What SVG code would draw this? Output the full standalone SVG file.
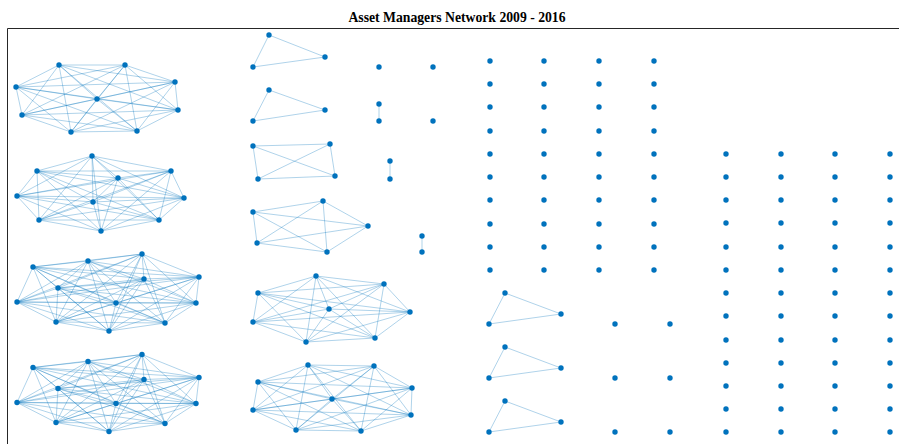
<svg xmlns="http://www.w3.org/2000/svg" xmlns:xlink="http://www.w3.org/1999/xlink" width="899" height="444" viewBox="0 0 899 444">
<style>
.e path{fill:none;stroke:#0072BD;stroke-opacity:0.45;stroke-width:0.7}
.n circle{fill:#0072BD;r:2.7px}
.ax{fill:none;stroke:#262626;stroke-width:1}
.t{font-family:"Liberation Serif","Times New Roman",serif;font-weight:bold;font-size:13.7px;fill:#000}
</style>
<rect width="899" height="444" fill="#fff"/>
<text class="t" x="457" y="22" text-anchor="middle">Asset Managers Network 2009 - 2016</text>
<path class="ax" d="M7.5 444V28.5H899"/>
<g id="connectors" class="e">
<g id="e-g1">
<path d="M59 65 125 65"/><path d="M59 65 175 82"/><path d="M59 65 16 87"/><path d="M59 65 97 99"/><path d="M59 65 178 110"/><path d="M59 65 22 115"/><path d="M59 65 71 132"/><path d="M59 65 137 131"/>
<path d="M125 65 175 82"/><path d="M125 65 16 87"/><path d="M125 65 97 99"/><path d="M125 65 178 110"/><path d="M125 65 22 115"/><path d="M125 65 71 132"/><path d="M125 65 137 131"/>
<path d="M175 82 16 87"/><path d="M175 82 97 99"/><path d="M175 82 178 110"/><path d="M175 82 22 115"/><path d="M175 82 71 132"/><path d="M175 82 137 131"/>
<path d="M16 87 97 99"/><path d="M16 87 178 110"/><path d="M16 87 22 115"/><path d="M16 87 71 132"/><path d="M16 87 137 131"/>
<path d="M97 99 178 110"/><path d="M97 99 22 115"/><path d="M97 99 71 132"/><path d="M97 99 137 131"/>
<path d="M178 110 22 115"/><path d="M178 110 71 132"/><path d="M178 110 137 131"/>
<path d="M22 115 71 132"/><path d="M22 115 137 131"/><path d="M71 132 137 131"/>
</g>
<g id="e-g2">
<path d="M92 156 37 171"/><path d="M92 156 171 171"/><path d="M92 156 118 178"/><path d="M92 156 17 196"/><path d="M92 156 184 198"/><path d="M92 156 93 202"/><path d="M92 156 39 220"/><path d="M92 156 159 220"/><path d="M92 156 101 231"/>
<path d="M37 171 171 171"/><path d="M37 171 118 178"/><path d="M37 171 17 196"/><path d="M37 171 184 198"/><path d="M37 171 93 202"/><path d="M37 171 39 220"/><path d="M37 171 159 220"/><path d="M37 171 101 231"/>
<path d="M171 171 118 178"/><path d="M171 171 17 196"/><path d="M171 171 184 198"/><path d="M171 171 93 202"/><path d="M171 171 39 220"/><path d="M171 171 159 220"/><path d="M171 171 101 231"/>
<path d="M118 178 17 196"/><path d="M118 178 184 198"/><path d="M118 178 93 202"/><path d="M118 178 39 220"/><path d="M118 178 159 220"/><path d="M118 178 101 231"/>
<path d="M17 196 184 198"/><path d="M17 196 93 202"/><path d="M17 196 39 220"/><path d="M17 196 159 220"/><path d="M17 196 101 231"/>
<path d="M184 198 93 202"/><path d="M184 198 39 220"/><path d="M184 198 159 220"/><path d="M184 198 101 231"/>
<path d="M93 202 39 220"/><path d="M93 202 159 220"/><path d="M93 202 101 231"/>
<path d="M39 220 159 220"/><path d="M39 220 101 231"/><path d="M159 220 101 231"/>
</g>
<g id="e-g3">
<path d="M142 254 88 261"/><path d="M142 254 33 267"/><path d="M142 254 144 279"/><path d="M142 254 199 277"/><path d="M142 254 58 288"/><path d="M142 254 17 302"/><path d="M142 254 116 303"/><path d="M142 254 196 303"/><path d="M142 254 56 322"/><path d="M142 254 165 323"/><path d="M142 254 109 331"/>
<path d="M88 261 33 267"/><path d="M88 261 144 279"/><path d="M88 261 199 277"/><path d="M88 261 58 288"/><path d="M88 261 17 302"/><path d="M88 261 116 303"/><path d="M88 261 196 303"/><path d="M88 261 56 322"/><path d="M88 261 165 323"/><path d="M88 261 109 331"/>
<path d="M33 267 144 279"/><path d="M33 267 199 277"/><path d="M33 267 58 288"/><path d="M33 267 17 302"/><path d="M33 267 116 303"/><path d="M33 267 196 303"/><path d="M33 267 56 322"/><path d="M33 267 165 323"/><path d="M33 267 109 331"/>
<path d="M144 279 199 277"/><path d="M144 279 58 288"/><path d="M144 279 17 302"/><path d="M144 279 116 303"/><path d="M144 279 196 303"/><path d="M144 279 56 322"/><path d="M144 279 165 323"/><path d="M144 279 109 331"/>
<path d="M199 277 58 288"/><path d="M199 277 17 302"/><path d="M199 277 116 303"/><path d="M199 277 196 303"/><path d="M199 277 56 322"/><path d="M199 277 165 323"/><path d="M199 277 109 331"/>
<path d="M58 288 17 302"/><path d="M58 288 116 303"/><path d="M58 288 196 303"/><path d="M58 288 56 322"/><path d="M58 288 165 323"/><path d="M58 288 109 331"/>
<path d="M17 302 116 303"/><path d="M17 302 196 303"/><path d="M17 302 56 322"/><path d="M17 302 165 323"/><path d="M17 302 109 331"/>
<path d="M116 303 196 303"/><path d="M116 303 56 322"/><path d="M116 303 165 323"/><path d="M116 303 109 331"/>
<path d="M196 303 56 322"/><path d="M196 303 165 323"/><path d="M196 303 109 331"/>
<path d="M56 322 165 323"/><path d="M56 322 109 331"/><path d="M165 323 109 331"/>
</g>
<use id="e-g4" xlink:href="#e-g3" href="#e-g3" transform="translate(0,100.5)"/>
<g id="e-t1"><path d="M269 35 325 57"/><path d="M269 35 253 67"/><path d="M325 57 253 67"/></g>
<g id="e-t2"><path d="M269 90 325 110"/><path d="M269 90 253 121"/><path d="M325 110 253 121"/></g>
<g id="e-p1"><path d="M379 104 379 121"/></g>
<g id="e-k4"><path d="M253 146 330 144"/><path d="M253 146 258 179"/><path d="M253 146 335 176"/><path d="M330 144 258 179"/><path d="M330 144 335 176"/><path d="M258 179 335 176"/></g>
<g id="e-p2"><path d="M390 161 390 179"/></g>
<g id="e-k5"><path d="M323 201 253 212"/><path d="M323 201 368 226"/><path d="M323 201 257 243"/><path d="M323 201 327 252"/><path d="M253 212 368 226"/><path d="M253 212 257 243"/><path d="M253 212 327 252"/><path d="M368 226 257 243"/><path d="M368 226 327 252"/><path d="M257 243 327 252"/></g>
<g id="e-p3"><path d="M422 236 422 252"/></g>
<g id="e-k8">
<path d="M316 276 384 284"/><path d="M316 276 258 293"/><path d="M316 276 329 309"/><path d="M316 276 410 312"/><path d="M316 276 253 322"/><path d="M316 276 375 338"/><path d="M316 276 306 342"/>
<path d="M384 284 258 293"/><path d="M384 284 329 309"/><path d="M384 284 410 312"/><path d="M384 284 253 322"/><path d="M384 284 375 338"/><path d="M384 284 306 342"/>
<path d="M258 293 329 309"/><path d="M258 293 410 312"/><path d="M258 293 253 322"/><path d="M258 293 375 338"/><path d="M258 293 306 342"/>
<path d="M329 309 410 312"/><path d="M329 309 253 322"/><path d="M329 309 375 338"/><path d="M329 309 306 342"/>
<path d="M410 312 253 322"/><path d="M410 312 375 338"/><path d="M410 312 306 342"/>
<path d="M253 322 375 338"/><path d="M253 322 306 342"/><path d="M375 338 306 342"/>
</g>
<g id="e-k9">
<path d="M308 365 374 366"/><path d="M308 365 258 382"/><path d="M308 365 412 388"/><path d="M308 365 332 399"/><path d="M308 365 253 410"/><path d="M308 365 411 415"/><path d="M308 365 296 430"/><path d="M308 365 361 431"/>
<path d="M374 366 258 382"/><path d="M374 366 412 388"/><path d="M374 366 332 399"/><path d="M374 366 253 410"/><path d="M374 366 411 415"/><path d="M374 366 296 430"/><path d="M374 366 361 431"/>
<path d="M258 382 412 388"/><path d="M258 382 332 399"/><path d="M258 382 253 410"/><path d="M258 382 411 415"/><path d="M258 382 296 430"/><path d="M258 382 361 431"/>
<path d="M412 388 332 399"/><path d="M412 388 253 410"/><path d="M412 388 411 415"/><path d="M412 388 296 430"/><path d="M412 388 361 431"/>
<path d="M332 399 253 410"/><path d="M332 399 411 415"/><path d="M332 399 296 430"/><path d="M332 399 361 431"/>
<path d="M253 410 411 415"/><path d="M253 410 296 430"/><path d="M253 410 361 431"/>
<path d="M411 415 296 430"/><path d="M411 415 361 431"/><path d="M296 430 361 431"/>
</g>
<g id="e-ta"><path d="M505 293 561 314"/><path d="M505 293 489 324"/><path d="M561 314 489 324"/></g>
<g id="e-tb"><path d="M505 347 561 368"/><path d="M505 347 489 378"/><path d="M561 368 489 378"/></g>
<g id="e-tc"><path d="M505 401 561 422"/><path d="M505 401 489 432"/><path d="M561 422 489 432"/></g>
</g>
<g id="nodes" class="n">
<g id="g1"><circle cx="59" cy="65"/><circle cx="125" cy="65"/><circle cx="175" cy="82"/><circle cx="16" cy="87"/><circle cx="97" cy="99"/><circle cx="178" cy="110"/><circle cx="22" cy="115"/><circle cx="71" cy="132"/><circle cx="137" cy="131"/></g>
<g id="g2"><circle cx="92" cy="156"/><circle cx="37" cy="171"/><circle cx="171" cy="171"/><circle cx="118" cy="178"/><circle cx="17" cy="196"/><circle cx="184" cy="198"/><circle cx="93" cy="202"/><circle cx="39" cy="220"/><circle cx="159" cy="220"/><circle cx="101" cy="231"/></g>
<g id="g3"><circle cx="142" cy="254"/><circle cx="88" cy="261"/><circle cx="33" cy="267"/><circle cx="144" cy="279"/><circle cx="199" cy="277"/><circle cx="58" cy="288"/><circle cx="17" cy="302"/><circle cx="116" cy="303"/><circle cx="196" cy="303"/><circle cx="56" cy="322"/><circle cx="165" cy="323"/><circle cx="109" cy="331"/></g>
<g id="g4"><circle cx="142" cy="354.5"/><circle cx="88" cy="361.5"/><circle cx="33" cy="367.5"/><circle cx="144" cy="379.5"/><circle cx="199" cy="377.5"/><circle cx="58" cy="388.5"/><circle cx="17" cy="402.5"/><circle cx="116" cy="403.5"/><circle cx="196" cy="403.5"/><circle cx="56" cy="422.5"/><circle cx="165" cy="423.5"/><circle cx="109" cy="431.5"/></g>
<g id="t1"><circle cx="269" cy="35"/><circle cx="325" cy="57"/><circle cx="253" cy="67"/></g>
<g id="t2"><circle cx="269" cy="90"/><circle cx="325" cy="110"/><circle cx="253" cy="121"/></g>
<g id="i1"><circle cx="379" cy="67"/></g>
<g id="i2"><circle cx="433" cy="67"/></g>
<g id="p1"><circle cx="379" cy="104"/><circle cx="379" cy="121"/></g>
<g id="i3"><circle cx="433" cy="121"/></g>
<g id="k4"><circle cx="253" cy="146"/><circle cx="330" cy="144"/><circle cx="258" cy="179"/><circle cx="335" cy="176"/></g>
<g id="p2"><circle cx="390" cy="161"/><circle cx="390" cy="179"/></g>
<g id="k5"><circle cx="323" cy="201"/><circle cx="253" cy="212"/><circle cx="368" cy="226"/><circle cx="257" cy="243"/><circle cx="327" cy="252"/></g>
<g id="p3"><circle cx="422" cy="236"/><circle cx="422" cy="252"/></g>
<g id="k8"><circle cx="316" cy="276"/><circle cx="384" cy="284"/><circle cx="258" cy="293"/><circle cx="329" cy="309"/><circle cx="410" cy="312"/><circle cx="253" cy="322"/><circle cx="375" cy="338"/><circle cx="306" cy="342"/></g>
<g id="k9"><circle cx="308" cy="365"/><circle cx="374" cy="366"/><circle cx="258" cy="382"/><circle cx="412" cy="388"/><circle cx="332" cy="399"/><circle cx="253" cy="410"/><circle cx="411" cy="415"/><circle cx="296" cy="430"/><circle cx="361" cy="431"/></g>
<g id="ta"><circle cx="505" cy="293"/><circle cx="561" cy="314"/><circle cx="489" cy="324"/></g>
<g id="tb"><circle cx="505" cy="347"/><circle cx="561" cy="368"/><circle cx="489" cy="378"/></g>
<g id="tc"><circle cx="505" cy="401"/><circle cx="561" cy="422"/><circle cx="489" cy="432"/></g>
<g id="iso3"><circle cx="615" cy="324"/><circle cx="670" cy="324"/><circle cx="615" cy="378"/><circle cx="670" cy="378"/><circle cx="615" cy="432"/><circle cx="670" cy="432"/></g>
<g id="gridA">
<circle cx="490" cy="61"/><circle cx="544" cy="61"/><circle cx="599" cy="61"/><circle cx="654" cy="61"/>
<circle cx="490" cy="84"/><circle cx="544" cy="84"/><circle cx="599" cy="84"/><circle cx="654" cy="84"/>
<circle cx="490" cy="107"/><circle cx="544" cy="107"/><circle cx="599" cy="107"/><circle cx="654" cy="107"/>
<circle cx="490" cy="131"/><circle cx="544" cy="131"/><circle cx="599" cy="131"/><circle cx="654" cy="131"/>
<circle cx="490" cy="154"/><circle cx="544" cy="154"/><circle cx="599" cy="154"/><circle cx="654" cy="154"/>
<circle cx="490" cy="177"/><circle cx="544" cy="177"/><circle cx="599" cy="177"/><circle cx="654" cy="177"/>
<circle cx="490" cy="200"/><circle cx="544" cy="200"/><circle cx="599" cy="200"/><circle cx="654" cy="200"/>
<circle cx="490" cy="224"/><circle cx="544" cy="224"/><circle cx="599" cy="224"/><circle cx="654" cy="224"/>
<circle cx="490" cy="247"/><circle cx="544" cy="247"/><circle cx="599" cy="247"/><circle cx="654" cy="247"/>
<circle cx="490" cy="270"/><circle cx="544" cy="270"/><circle cx="599" cy="270"/><circle cx="654" cy="270"/>
</g>
<g id="gridB">
<circle cx="726" cy="154"/><circle cx="781" cy="154"/><circle cx="835" cy="154"/><circle cx="890" cy="154"/>
<circle cx="726" cy="177"/><circle cx="781" cy="177"/><circle cx="835" cy="177"/><circle cx="890" cy="177"/>
<circle cx="726" cy="200"/><circle cx="781" cy="200"/><circle cx="835" cy="200"/><circle cx="890" cy="200"/>
<circle cx="726" cy="223"/><circle cx="781" cy="223"/><circle cx="835" cy="223"/><circle cx="890" cy="223"/>
<circle cx="726" cy="247"/><circle cx="781" cy="247"/><circle cx="835" cy="247"/><circle cx="890" cy="247"/>
<circle cx="726" cy="270"/><circle cx="781" cy="270"/><circle cx="835" cy="270"/><circle cx="890" cy="270"/>
<circle cx="726" cy="293"/><circle cx="781" cy="293"/><circle cx="835" cy="293"/><circle cx="890" cy="293"/>
<circle cx="726" cy="316"/><circle cx="781" cy="316"/><circle cx="835" cy="316"/><circle cx="890" cy="316"/>
<circle cx="726" cy="340"/><circle cx="781" cy="340"/><circle cx="835" cy="340"/><circle cx="890" cy="340"/>
<circle cx="726" cy="363"/><circle cx="781" cy="363"/><circle cx="835" cy="363"/><circle cx="890" cy="363"/>
<circle cx="726" cy="386"/><circle cx="781" cy="386"/><circle cx="835" cy="386"/><circle cx="890" cy="386"/>
<circle cx="726" cy="409"/><circle cx="781" cy="409"/><circle cx="835" cy="409"/><circle cx="890" cy="409"/>
<circle cx="726" cy="432"/><circle cx="781" cy="432"/><circle cx="835" cy="432"/><circle cx="890" cy="432"/>
</g>
</g>
</svg>
